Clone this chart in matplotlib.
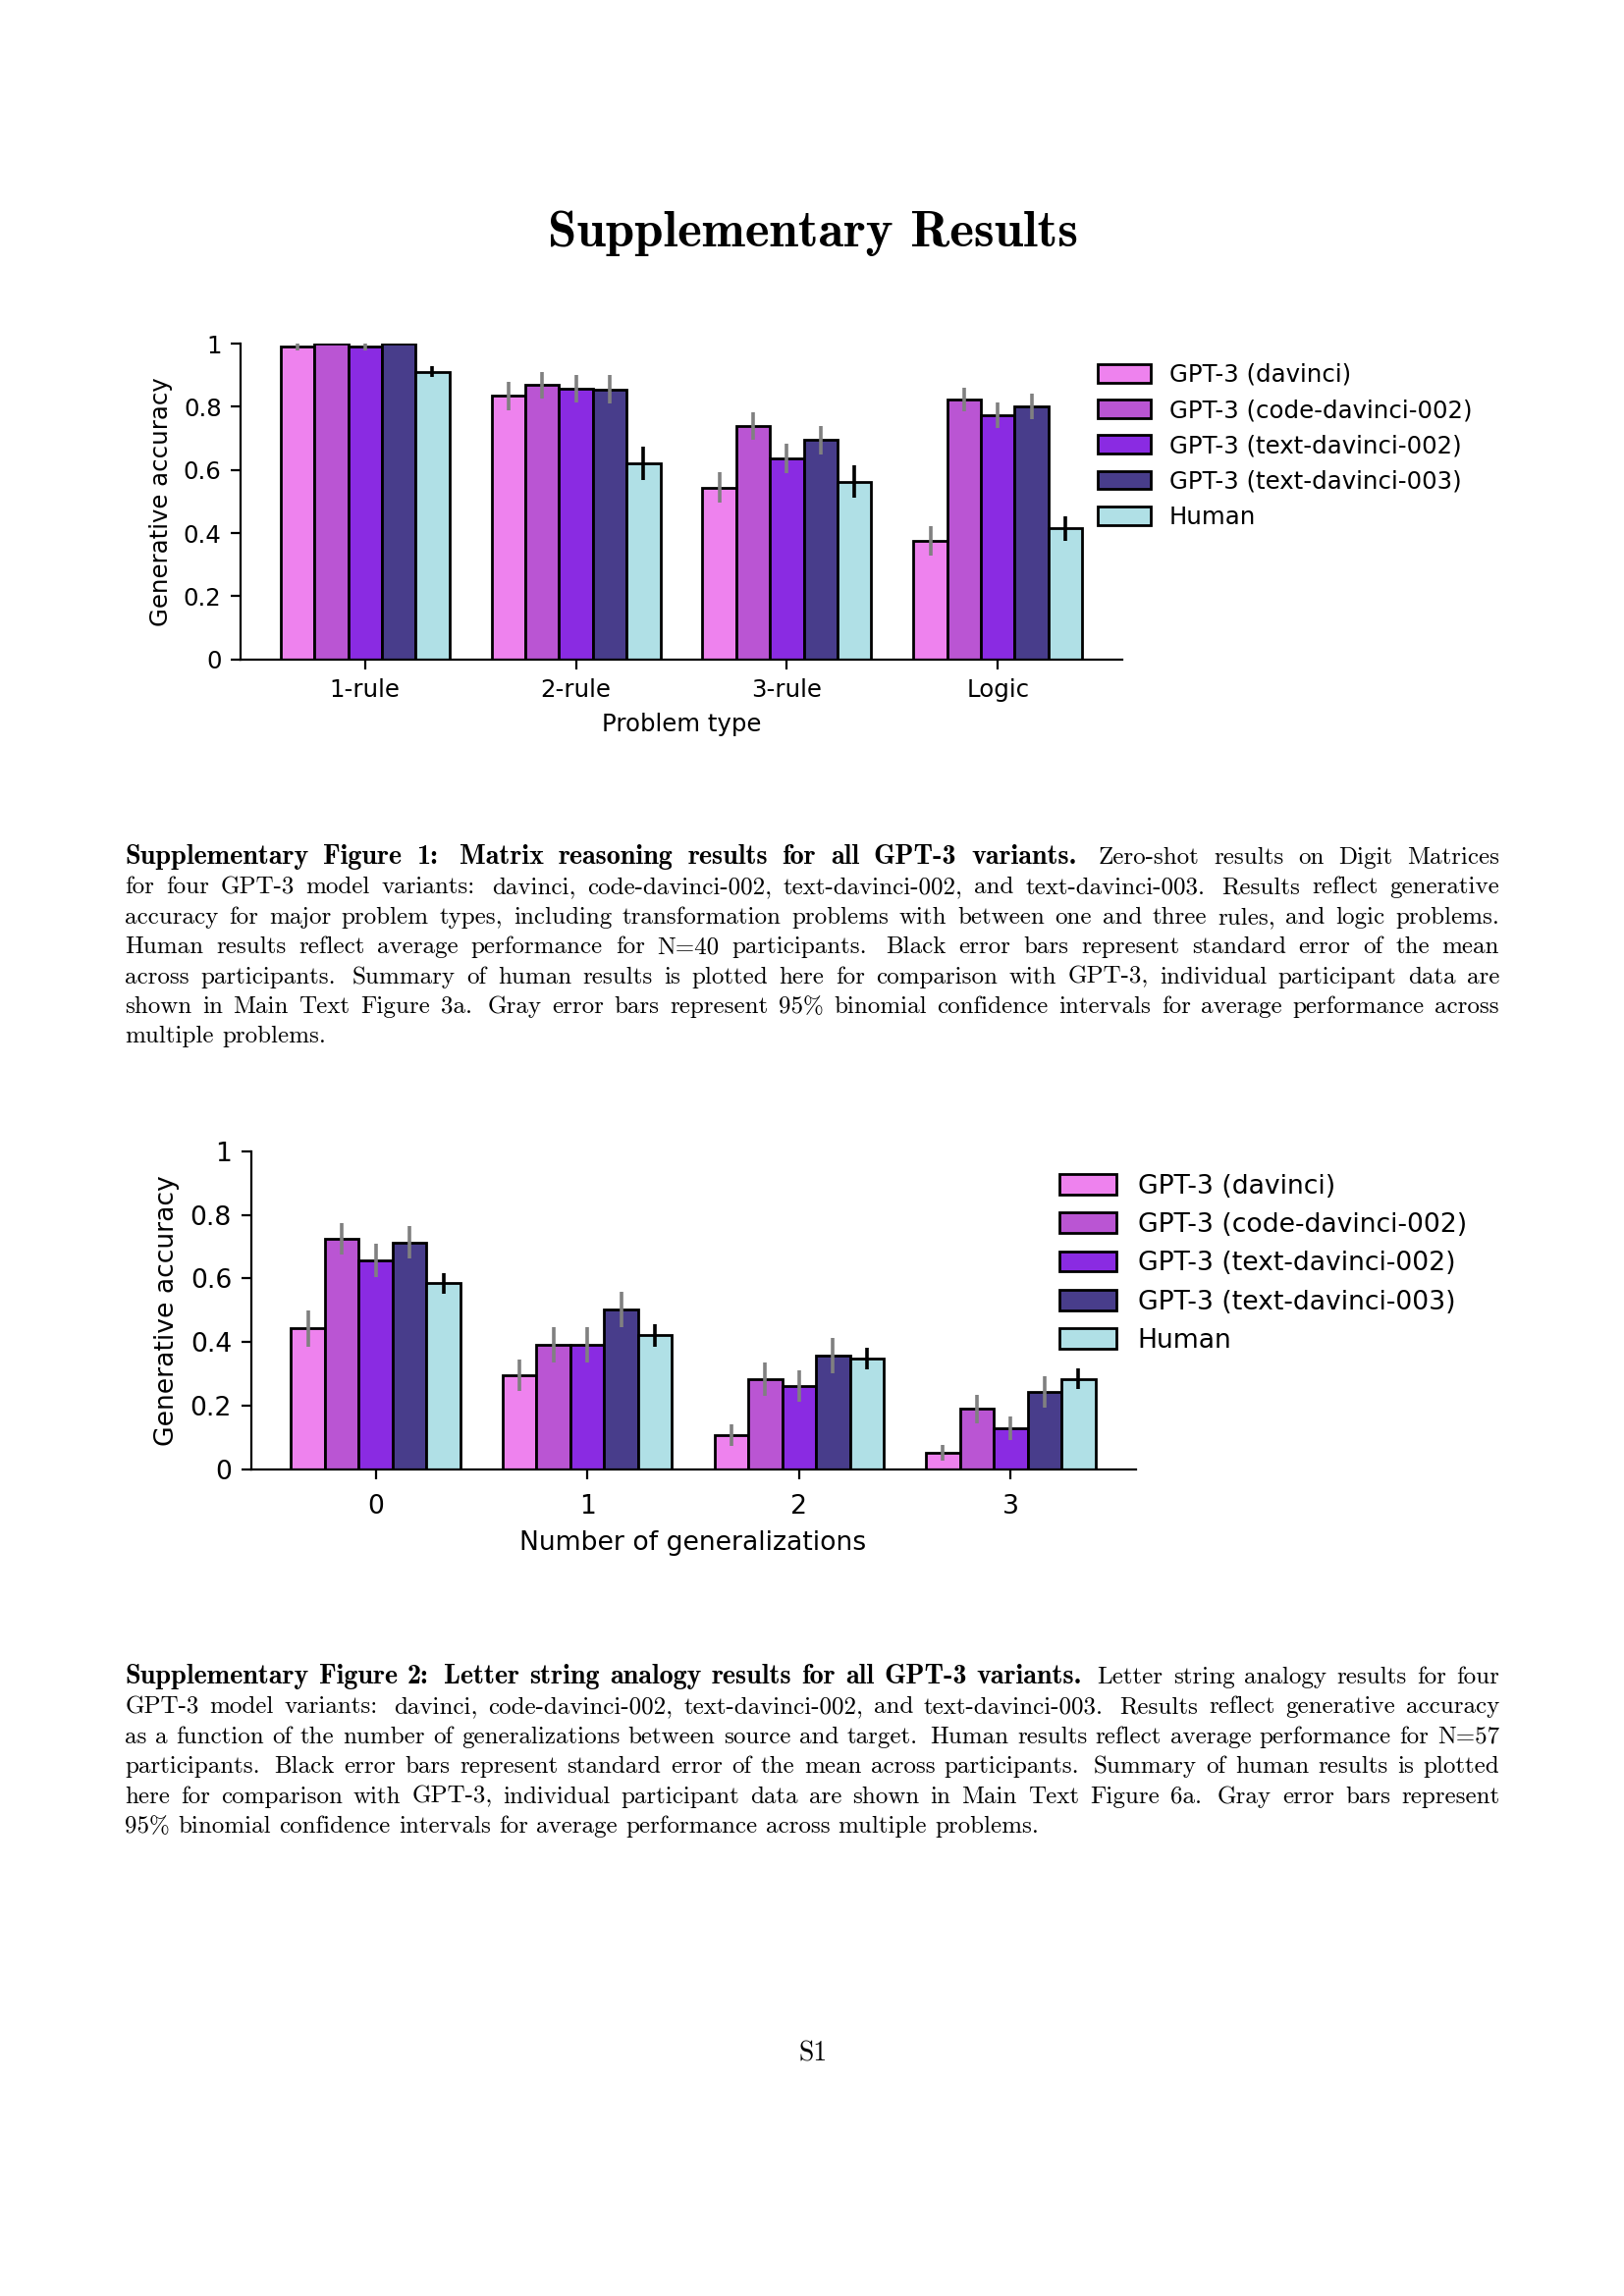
import matplotlib.pyplot as plt
import numpy as np

W, H, DPI = 1654, 2339, 200

models = ['GPT-3 (davinci)', 'GPT-3 (code-davinci-002)', 'GPT-3 (text-davinci-002)',
          'GPT-3 (text-davinci-003)', 'Human']
colors = ['violet', 'mediumorchid', 'blueviolet', 'darkslateblue', 'powderblue']
err_colors = ['gray', 'gray', 'gray', 'gray', 'black']

# Supp. fig 1: digit matrices
problem_types = ['1-rule', '2-rule', '3-rule', 'Logic']
matrix_acc = [[0.99, 0.834, 0.544, 0.375],
              [1.00, 0.868, 0.738, 0.823],
              [0.99, 0.858, 0.636, 0.773],
              [1.00, 0.855, 0.694, 0.800],
              [0.91, 0.621, 0.563, 0.415]]
matrix_err = [[0.011, 0.045, 0.049, 0.047],
              [0.0, 0.042, 0.043, 0.037],
              [0.011, 0.043, 0.047, 0.041],
              [0.0, 0.044, 0.045, 0.040],
              [0.017, 0.052, 0.052, 0.039]]

# Supp. fig 2: letter string analogies
n_gen = ['0', '1', '2', '3']
letter_acc = [[0.442, 0.296, 0.106, 0.051],
              [0.724, 0.392, 0.284, 0.189],
              [0.657, 0.392, 0.261, 0.130],
              [0.713, 0.503, 0.357, 0.243],
              [0.584, 0.421, 0.347, 0.284]]
letter_err = [[0.057, 0.050, 0.034, 0.025],
              [0.049, 0.056, 0.052, 0.044],
              [0.053, 0.056, 0.049, 0.037],
              [0.051, 0.056, 0.055, 0.048],
              [0.032, 0.035, 0.034, 0.032]]

yticks = [0, 0.2, 0.4, 0.6, 0.8, 1]
ytick_labels = ['0', '0.2', '0.4', '0.6', '0.8', '1']

cap1_bold = 'Supplementary Figure 1: Matrix reasoning results for all GPT-3 variants.'
cap1 = ['Zero-shot results on Digit Matrices',
        'for four GPT-3 model variants: davinci, code-davinci-002, text-davinci-002, and text-davinci-003. Results reflect generative',
        'accuracy for major problem types, including transformation problems with between one and three rules, and logic problems.',
        'Human results reflect average performance for N=40 participants. Black error bars represent standard error of the mean',
        'across participants. Summary of human results is plotted here for comparison with GPT-3, individual participant data are',
        'shown in Main Text Figure 3a. Gray error bars represent 95% binomial confidence intervals for average performance across',
        'multiple problems.']
cap2_bold = 'Supplementary Figure 2: Letter string analogy results for all GPT-3 variants.'
cap2 = ['Letter string analogy results for four',
        'GPT-3 model variants: davinci, code-davinci-002, text-davinci-002, and text-davinci-003. Results reflect generative accuracy',
        'as a function of the number of generalizations between source and target. Human results reflect average performance for N=57',
        'participants. Black error bars represent standard error of the mean across participants. Summary of human results is plotted',
        'here for comparison with GPT-3, individual participant data are shown in Main Text Figure 6a. Gray error bars represent',
        '95% binomial confidence intervals for average performance across multiple problems.']

serif = ['cmr10', 'DejaVu Serif']
serif_bold = ['cmb10', 'DejaVu Serif']

fig = plt.figure(figsize=(W / DPI, H / DPI), dpi=DPI)
renderer = fig.canvas.get_renderer()


def bar_panel(rect, cats, acc, err, xlabel, fs, leg_anchor, xpad=3.5):
    ax = fig.add_axes(rect)
    x = np.arange(len(cats))
    bw = 0.16
    for i in range(len(models)):
        xs = x + (i - 2) * bw
        ax.bar(xs, acc[i], width=bw, color=colors[i], edgecolor='black',
               linewidth=1.0, label=models[i], zorder=2)
        ax.errorbar(xs, acc[i], yerr=err[i], fmt='none', ecolor=err_colors[i],
                    elinewidth=1.3, capsize=0, zorder=3)
    ax.set_ylim(0, 1)
    ax.set_yticks(yticks)
    ax.set_yticklabels(ytick_labels)
    ax.set_xticks(x)
    ax.set_xticklabels(cats)
    ax.tick_params(labelsize=fs)
    ax.tick_params(axis='x', pad=xpad)
    ax.set_xlabel(xlabel, fontsize=fs)
    ax.set_ylabel('Generative accuracy', fontsize=fs)
    ax.spines['top'].set_visible(False)
    ax.spines['right'].set_visible(False)
    ax.legend(loc='center left', bbox_to_anchor=leg_anchor, bbox_transform=fig.transFigure,
              frameon=False, fontsize=fs, borderaxespad=0, handlelength=2.2, handleheight=0.8)
    return ax


bar_panel([245 / W, 1 - 671.7 / H, 898 / W, 321.7 / H], problem_types, matrix_acc, matrix_err,
          'Problem type', 8.8, (1108 / W, 1 - 454.3 / H))
bar_panel([255.5 / W, 1 - 1496.7 / H, 901 / W, 324 / H], n_gen, letter_acc, letter_err,
          'Number of generalizations', 9.6, (1068 / W, 1 - 1287.3 / H), xpad=5.5)


def justified(bold, lines, base_y, fs=9, bfs=10.15, left=127.3, right=1527, lead=30.4):
    for li, line in enumerate(lines):
        words = []
        if li == 0:
            words += [(w, True) for w in bold.split()]
        words += [(w, False) for w in line.split()]
        y = 1 - (base_y + li * lead) / H
        txts, widths = [], []
        for w, b in words:
            t = fig.text(0, y, w, fontsize=bfs if b else fs,
                         family=serif_bold if b else serif, va='baseline', ha='left')
            txts.append(t)
            widths.append(t.get_window_extent(renderer).width)
        gaps = [1.5 if w[0][-1] in '.:' else 1.0 for w in words[:-1]]
        last = li == len(lines) - 1
        if last:
            unit = fs * DPI / 72 * 0.333
        else:
            unit = (right - left - sum(widths)) / sum(gaps)
        xpos = left
        for k, t in enumerate(txts):
            t.set_x(xpos / W)
            if k < len(gaps):
                g = gaps[k] if not last else 1.0
                xpos += widths[k] + g * unit


justified(cap1_bold, cap1, 880)
justified(cap2_bold, cap2, 1715)

title = fig.text(828 / W, 1 - 251 / H, 'Supplementary Results', family=serif_bold,
                 fontsize=20.7, ha='center', va='baseline')
tw = title.get_window_extent(renderer).width
title.set_fontsize(20.7 * 540 / tw)

fig.text(828 / W, 1 - 2100 / H, 'S1', family=serif, fontsize=10, ha='center', va='baseline')

fig.savefig('out.png', dpi=DPI)
